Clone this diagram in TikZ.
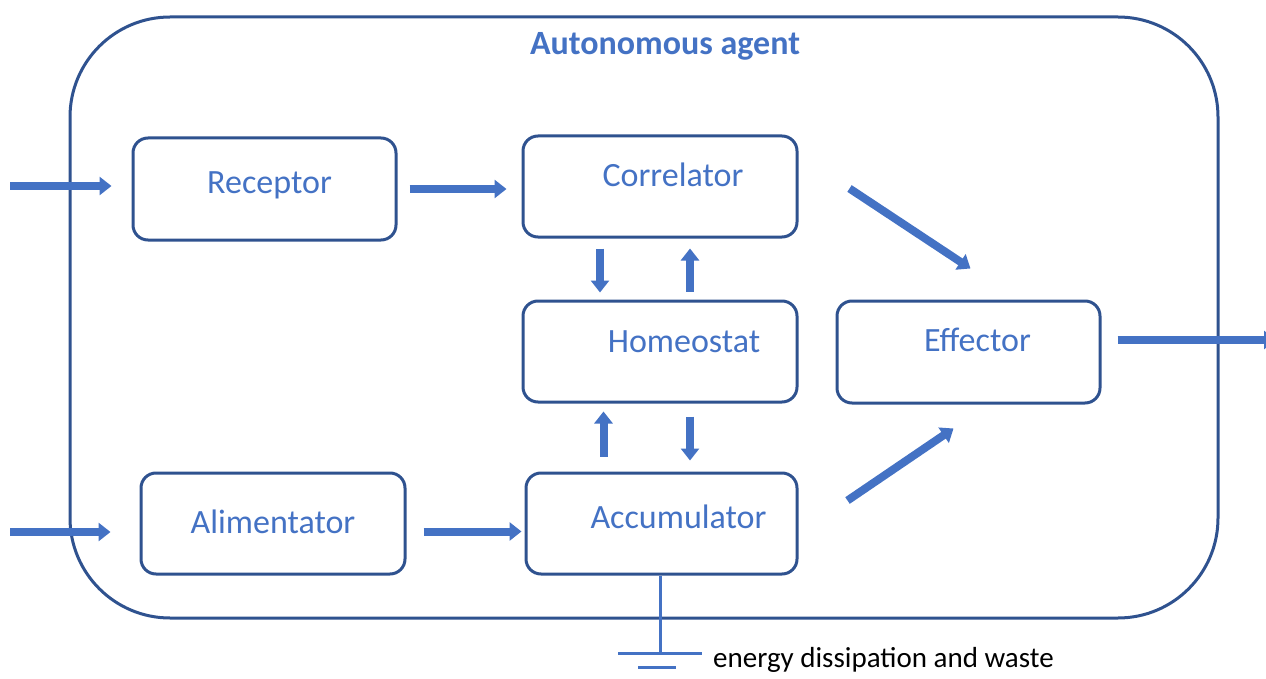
\documentclass[tikz,border=0pt]{standalone}
\usepackage{fontspec}
\setmainfont{Carlito}
\usepackage{tikz}
\usetikzlibrary{arrows.meta}
\definecolor{boxline}{HTML}{2F528F}
\definecolor{accent}{HTML}{4472C4}

\begin{document}
\begin{tikzpicture}[x=1pt,y=-1pt,
  every node/.style={font=\fontsize{34}{38}\selectfont},
  unit/.style={draw=boxline,line width=3pt,rounded corners=15pt,inner sep=0pt},
  txt/.style={text=accent,font=\fontsize{34}{38}\selectfont},
  barrow/.style={draw=accent,line width=8pt,-{Triangle[length=12pt,width=18pt]}},
  gline/.style={draw=accent,line width=3pt}]
\clip (0,0) rectangle (1266,679);
\draw[boxline,line width=3pt,rounded corners=100pt] (70,17) rectangle (1218,618);
\node[text=accent,font=\fontsize{34}{38}\selectfont\bfseries] (title) at (665,46) {Autonomous agent};
\node[unit,minimum width=263pt,minimum height=102pt,label={[txt,xshift=5pt,yshift=4pt]center:Receptor}] (rec) at (264.5,189) {};
\node[unit,minimum width=274pt,minimum height=101pt,label={[txt,xshift=13pt,yshift=12pt]center:Correlator}] (cor) at (660,186.5) {};
\node[unit,minimum width=274pt,minimum height=101pt,label={[txt,xshift=24pt,yshift=10pt]center:Homeostat}] (hom) at (660,351.5) {};
\node[unit,minimum width=263pt,minimum height=102pt,label={[txt,xshift=9pt,yshift=12pt]center:Effector}] (eff) at (968.5,352) {};
\node[unit,minimum width=264pt,minimum height=101pt,label={[txt,yshift=2pt]center:Alimentator}] (ali) at (273,523.5) {};
\node[unit,minimum width=271pt,minimum height=101pt,label={[txt,xshift=17pt,yshift=7pt]center:Accumulator}] (acc) at (661.5,523.5) {};
\coordinate (in1) at (10,186);
\coordinate (in2) at (10,532);
\coordinate (out) at (1276,340);
\coordinate (gnd) at (660,653);
% inputs and outputs
\draw[barrow,shorten >=20pt] (in1) -- (in1 -| rec.west);
\draw[barrow,shorten >=29pt] (in2) -- (in2 -| ali.west);
\draw[barrow,shorten <=16pt] (out -| eff.east) -- (out);
% between the units
\draw[barrow,shorten <=12pt,shorten >=15pt] (rec.east) -- (rec.east -| cor.west);
\draw[barrow,shorten <=17pt,shorten >=3pt] ([yshift=-8pt]ali.east) -- ([yshift=-8pt]ali.east -| acc.west);
\draw[barrow,shorten <=10pt,shorten >=7pt] ([xshift=-60pt]cor.south) -- ([xshift=-60pt]cor.south |- hom.north);
\draw[barrow,shorten <=8pt,shorten >=10pt] ([xshift=30pt]hom.north) -- ([xshift=30pt]hom.north |- cor.south);
\draw[barrow,shorten <=15pt,shorten >=8pt] ([xshift=-58pt]acc.north) -- ([xshift=-58pt]acc.north |- hom.south);
\draw[barrow,shorten <=13pt,shorten >=11pt] ([xshift=30pt]hom.south) -- ([xshift=30pt]hom.south |- acc.north);
\draw[barrow] ([xshift=51pt,yshift=-2pt]cor.east) -- ([xshift=2pt,yshift=31pt]eff.north);
\draw[barrow] ([xshift=49pt,yshift=23pt]acc.east) -- ([xshift=-15pt,yshift=-24pt]eff.south);
% dissipation
\draw[gline] (acc.south -| gnd) -- (gnd);
\draw[gline] ([xshift=-42pt]gnd) -- ([xshift=42pt]gnd);
\draw[gline] ([xshift=-22pt,yshift=-14pt]gnd) -- ([xshift=16pt,yshift=-14pt]gnd);
\node[anchor=base west,inner sep=0pt,font=\fontsize{29}{33}\selectfont] (waste) at (713,667) {energy dissipation and waste};
\end{tikzpicture}
\end{document}
